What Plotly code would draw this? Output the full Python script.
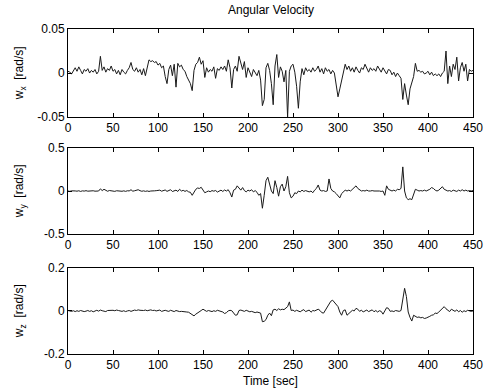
import plotly.graph_objects as go

# time base (s), 2 s sampling
time_s = list(range(0, 451, 2))

wx = [
    0.002, 0.001, -0.001, 0.003, 0.006,
    0.002, 0.007, 0.003, -0.001, 0.004,
    0.002, 0.005, 0.000, 0.003, 0.001,
    0.004, -0.001, 0.002, 0.019, 0.003,
    0.007, 0.001, 0.005, 0.003, 0.008,
    0.002, 0.004, -0.001, 0.003, -0.002,
    0.004, 0.001, -0.001, 0.003, 0.006,
    0.012, 0.004, 0.002, 0.006, 0.001,
    0.004, -0.002, 0.005, -0.003, 0.007,
    0.015, 0.013, 0.014, 0.012, 0.013,
    0.009, 0.011, 0.006, 0.008, -0.004,
    -0.012, 0.004, 0.009, -0.003, 0.010,
    -0.016, 0.011, 0.007, 0.009, 0.004,
    0.002, -0.004, -0.008, -0.012, -0.020,
    0.003, 0.010, 0.012, 0.018, 0.010,
    0.014, -0.005, 0.006, 0.001, 0.004,
    0.002, 0.007, -0.006, 0.005, 0.003,
    0.007, 0.004, 0.008, 0.002, 0.015,
    0.006, -0.017, 0.004, 0.008, 0.002,
    0.019, 0.010, 0.004, 0.013, -0.005,
    0.006, 0.001, -0.004, 0.004, 0.001,
    -0.003, 0.003, -0.008, -0.037, -0.030,
    0.006, 0.011, 0.003, -0.012, -0.036,
    0.008, 0.021, -0.005, 0.007, 0.002,
    -0.010, 0.003, -0.050, 0.002, 0.008,
    0.010, 0.001, -0.015, -0.040, -0.010,
    0.005, -0.002, 0.006, 0.002, 0.004,
    0.001, 0.006, 0.002, 0.004, 0.008,
    0.001, 0.005, -0.001, 0.006, 0.002,
    0.004, -0.001, 0.003, 0.000, -0.012,
    -0.027, -0.018, -0.008, 0.003, 0.010,
    0.004, 0.008, 0.002, 0.006, 0.001,
    0.007, 0.003, 0.000, 0.006, 0.004,
    0.010, 0.005, 0.001, 0.006, 0.003,
    0.005, 0.002, 0.008, 0.004, 0.001,
    0.006, 0.003, -0.001, 0.004, 0.003,
    -0.002, 0.001, -0.004, 0.000, -0.003,
    -0.006, -0.030, -0.012, -0.025, -0.036,
    -0.018, -0.010, -0.004, 0.011, 0.002,
    0.003, 0.001, 0.002, -0.001, 0.000,
    0.002, -0.002, 0.001, -0.003, -0.001,
    -0.003, -0.001, -0.004, 0.000, 0.002,
    0.025, -0.012, 0.008, -0.004, 0.010,
    0.004, 0.018, -0.009, 0.006, 0.012,
    0.002, 0.010, -0.009, 0.004, 0.002,
    0.003,
]

wy = [
    0.000, -0.004, 0.002, -0.003, 0.001,
    -0.002, 0.003, -0.005, 0.002, -0.001,
    0.004, -0.002, 0.001, -0.004, 0.003,
    -0.002, 0.002, 0.000, 0.025, 0.005,
    0.020, 0.008, -0.003, 0.006, 0.002,
    0.004, -0.004, 0.003, -0.002, 0.001,
    -0.003, 0.002, -0.004, 0.003, 0.001,
    0.015, -0.002, 0.003, 0.006, 0.015,
    0.004, -0.003, 0.002, -0.004, 0.001,
    -0.005, 0.000, -0.003, 0.002, 0.004,
    0.003, 0.010, -0.002, 0.006, 0.012,
    -0.004, 0.002, 0.015, -0.006, 0.003,
    0.010, -0.005, 0.020, 0.000, 0.008,
    -0.004, 0.006, -0.010, -0.015, -0.050,
    -0.010, 0.020, 0.035, 0.030, 0.043,
    0.010, -0.020, -0.010, 0.000, -0.008,
    0.005, -0.002, 0.006, -0.012, 0.000,
    0.010, -0.005, 0.012, 0.000, 0.015,
    -0.020, -0.070, 0.010, 0.020, 0.060,
    0.030, 0.010, 0.040, 0.005, -0.010,
    0.010, 0.000, 0.015, -0.010, 0.005,
    -0.015, -0.050, -0.030, -0.200, -0.050,
    0.120, 0.160, 0.080, 0.000, -0.030,
    0.120, 0.040, -0.060, 0.050, 0.080,
    0.000, 0.050, 0.170, -0.020, -0.080,
    -0.060, -0.020, -0.030, 0.000, -0.010,
    0.010, -0.005, 0.005, 0.000, -0.010,
    0.000, -0.020, 0.010, 0.030, 0.070,
    0.010, 0.000, 0.005, -0.005, 0.000,
    0.140, 0.030, 0.000, -0.010, -0.030,
    -0.060, -0.080, -0.030, -0.010, 0.010,
    0.000, 0.010, 0.000, 0.020, 0.030,
    0.060, 0.030, 0.010, 0.000, 0.005,
    0.000, 0.010, 0.000, 0.000, 0.005,
    0.000, 0.000, 0.005, 0.000, -0.005,
    0.000, -0.050, 0.060, 0.020, 0.010,
    0.000, 0.010, 0.000, 0.020, 0.015,
    0.030, 0.280, 0.000, -0.080, -0.100,
    -0.090, -0.100, -0.050, 0.020, 0.010,
    0.000, 0.005, 0.000, 0.010, 0.000,
    0.010, 0.020, 0.040, 0.030, 0.010,
    0.000, 0.010, 0.030, 0.050, 0.020,
    0.010, 0.000, 0.005, -0.005, 0.010,
    0.000, -0.005, 0.010, 0.000, 0.015,
    0.000, 0.010, 0.000, 0.005, 0.000,
    0.005,
]

wz = [
    0.002, 0.000, -0.002, 0.001, -0.003,
    0.001, -0.002, 0.002, 0.000, -0.003,
    -0.001, 0.002, -0.002, 0.001, -0.004,
    -0.002, 0.003, -0.001, 0.004, 0.001,
    0.000, -0.003, 0.002, 0.003, 0.005,
    0.003, 0.001, 0.004, 0.002, 0.000,
    -0.002, 0.001, -0.003, 0.000, 0.002,
    -0.002, 0.003, 0.004, 0.002, 0.005,
    0.003, 0.001, 0.002, 0.004, 0.001,
    0.003, 0.005, 0.002, 0.003, 0.000,
    0.001, 0.004, -0.002, 0.002, 0.003,
    0.000, -0.002, 0.003, 0.000, -0.003,
    0.002, -0.001, -0.003, -0.002, -0.004,
    -0.003, -0.005, -0.006, -0.012, -0.020,
    -0.023, -0.015, -0.008, -0.003, 0.002,
    0.008, 0.001, -0.002, 0.002, 0.000,
    -0.003, 0.001, -0.002, 0.003, 0.000,
    -0.004, -0.005, -0.012, -0.008, 0.000,
    0.003, 0.001, -0.008, -0.020, -0.018,
    0.002, 0.004, 0.001, -0.002, 0.003,
    0.000, -0.004, -0.002, -0.006, -0.008,
    -0.005, -0.008, -0.010, -0.050, -0.048,
    -0.040, -0.020, -0.010, -0.022, 0.005,
    0.008, 0.002, 0.010, 0.005, 0.008,
    0.006, 0.012, 0.020, 0.042, 0.002,
    0.004, -0.002, 0.003, 0.000, -0.004,
    0.002, 0.006, -0.003, 0.000, 0.004,
    -0.006, 0.002, 0.000, 0.004, 0.008,
    0.002, -0.008, -0.010, 0.004, 0.015,
    0.035, 0.045, 0.050, 0.040, 0.025,
    0.020, -0.005, -0.020, 0.002, 0.005,
    -0.020, -0.012, -0.005, 0.003, 0.000,
    0.012, 0.008, -0.002, 0.004, -0.005,
    0.000, 0.004, -0.003, 0.002, 0.005,
    -0.004, 0.002, -0.005, 0.001, -0.002,
    -0.015, 0.000, 0.015, 0.012, -0.002,
    0.000, -0.003, 0.002, 0.000, -0.002,
    0.002, 0.050, 0.105, 0.067, -0.005,
    -0.030, -0.047, -0.020, -0.025, -0.030,
    -0.028, -0.032, -0.030, -0.035, -0.033,
    -0.030, -0.025, -0.020, -0.018, -0.010,
    -0.012, -0.005, 0.005, 0.015, 0.020,
    0.010, 0.002, -0.003, 0.008, 0.003,
    -0.002, 0.005, -0.004, 0.002, -0.006,
    0.001, -0.003, 0.003, 0.000, -0.002,
    0.000,
]

x_ticks = [0, 50, 100, 150, 200, 250, 300, 350, 400, 450]
y_ticks = [[-0.05, 0, 0.05], [-0.5, 0, 0.5], [-0.2, 0, 0.2]]
y_ticktext = [["-0.05", "0", "0.05"], ["-0.5", "0", "0.5"], ["-0.2", "0", "0.2"]]
y_labels = ["w<sub>x</sub>  [rad/s]", "w<sub>y</sub>  [rad/s]", "w<sub>z</sub>  [rad/s]"]
title_text = "Angular Velocity"
xlabel_text = "Time [sec]"

series = [wx, wy, wz]
domains = [[0.729, 1.0], [0.369, 0.634], [0.0, 0.265]]

FONT = "Liberation Sans, Arial, sans-serif"
fig = go.Figure()
layout = dict(
    width=495, height=391,
    margin=dict(l=68, r=13, t=29, b=37),
    paper_bgcolor="white", plot_bgcolor="white",
    showlegend=False,
    font=dict(family=FONT, size=11, color="black"),
)
annotations = []
for i, (vals, dom) in enumerate(zip(series, domains)):
    n = "" if i == 0 else str(i + 1)
    fig.add_trace(go.Scatter(
        x=time_s, y=vals, mode="lines",
        line=dict(color="#1a1a1a", width=1),
        xaxis="x" + n, yaxis="y" + n, hoverinfo="skip",
    ))
    layout["xaxis" + n] = dict(
        domain=[0, 1], anchor="y" + n, range=[0, 450],
        tickvals=x_ticks, ticktext=[str(v) for v in x_ticks],
        ticks="inside", ticklen=4, tickcolor="black",
        showline=True, linecolor="black", linewidth=1, mirror="ticks",
        showgrid=False, zeroline=False,
        tickfont=dict(family=FONT, size=12, color="black"),
    )
    layout["yaxis" + n] = dict(
        domain=dom, anchor="x" + n, range=[y_ticks[i][0], y_ticks[i][2]],
        tickvals=y_ticks[i], ticktext=y_ticktext[i],
        ticks="inside", ticklen=4, tickcolor="black",
        showline=True, linecolor="black", linewidth=1, mirror="ticks",
        showgrid=False, zeroline=False,
        tickfont=dict(family=FONT, size=12, color="black"),
    )
    annotations.append(dict(
        text=y_labels[i], xref="paper", yref="paper",
        x=-0.118, y=(dom[0] + dom[1]) / 2, textangle=-90,
        showarrow=False, xanchor="center", yanchor="middle",
        font=dict(family=FONT, size=12, color="black"),
    ))

annotations.append(dict(
    text=title_text, xref="paper", yref="paper", x=0.5, y=1.058,
    showarrow=False, xanchor="center", yanchor="middle",
    font=dict(family=FONT, size=12, color="black"),
))
annotations.append(dict(
    text=xlabel_text, xref="paper", yref="paper", x=0.5, y=-0.083,
    showarrow=False, xanchor="center", yanchor="middle",
    font=dict(family=FONT, size=12, color="black"),
))
layout["annotations"] = annotations
fig.update_layout(**layout)
fig.write_html(
    "out.html",
    config={"displayModeBar": False},
    post_script="document.body.style.margin='0';document.body.style.padding='0';",
)
